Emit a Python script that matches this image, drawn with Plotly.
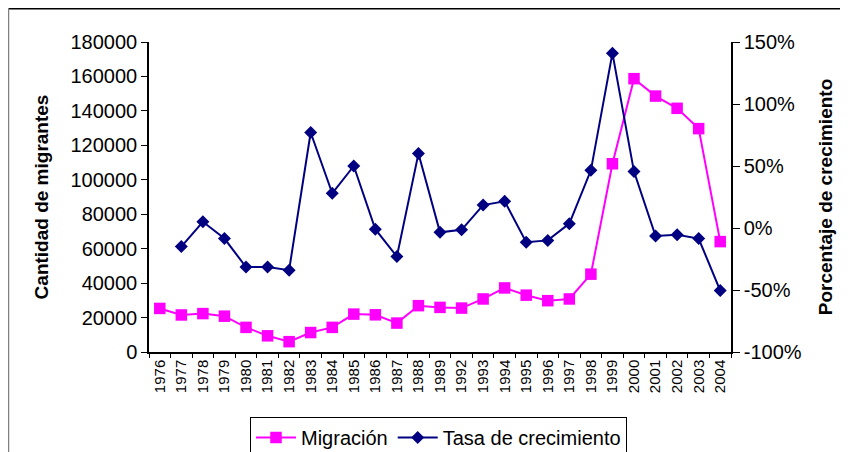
import plotly.graph_objects as go

years = ["1976", "1977", "1978", "1979", "1980", "1981", "1982", "1983", "1984",
         "1985", "1986", "1987", "1988", "1989", "1992", "1993", "1994", "1995",
         "1996", "1997", "1998", "1999", "2000", "2001", "2002", "2003", "2004"]

migracion = [25300, 21500, 22300, 20800, 14300, 9400, 6000, 11300, 14300,
             22000, 21600, 16800, 26900, 25900, 25500, 30800, 37200, 33000,
             29800, 30800, 45200, 109300, 158700, 148600, 141500, 129700, 64100]

tasa = [None, -0.15, 0.05, -0.085, -0.315, -0.315, -0.34, 0.77, 0.28,
        0.50, -0.01, -0.23, 0.60, -0.035, -0.015, 0.185, 0.215, -0.115,
        -0.10, 0.035, 0.465, 1.41, 0.455, -0.065, -0.055, -0.085, -0.505]

left_tickvals = [0, 20000, 40000, 60000, 80000, 100000, 120000, 140000, 160000, 180000]
left_ticktext = ["0", "20000", "40000", "60000", "80000", "100000", "120000",
                 "140000", "160000", "180000"]
right_tickvals = [-1.0, -0.5, 0.0, 0.5, 1.0, 1.5]
right_ticktext = ["-100%", "-50%", "0%", "50%", "100%", "150%"]

FONT = "Arial, 'Liberation Sans', sans-serif"
PINK = "#FF00FF"
NAVY = "#000080"

fig = go.Figure()
fig.add_trace(go.Scatter(
    x=years, y=migracion, name="Migración", mode="lines+markers",
    line=dict(color=PINK, width=2),
    marker=dict(symbol="square", size=11.5, color=PINK),
    xaxis="x", yaxis="y"))
fig.add_trace(go.Scatter(
    x=years, y=tasa, name="Tasa de crecimiento", mode="lines+markers",
    line=dict(color=NAVY, width=2),
    marker=dict(symbol="diamond", size=10, color=NAVY),
    xaxis="x", yaxis="y2"))

n = len(years)
axis_common = dict(showgrid=False, zeroline=False, tickcolor="black", linecolor="black",
                   automargin=False)
overlay_common = dict(showticklabels=False, showline=False, showgrid=False, zeroline=False,
                      tickcolor="black", automargin=False)

W, H = 848, 452
L, R, T, B = 141, 125, 34, 108
pw, ph = W - L - R, H - T - B

fig.update_layout(
    template="none",
    width=W, height=H,
    margin=dict(l=L, r=R, t=T, b=B, pad=0),
    paper_bgcolor="white", plot_bgcolor="white",
    font=dict(family=FONT, color="black", size=20),
    showlegend=True,
    legend=dict(orientation="h", xref="container", yref="container",
                x=430.5 / W, xanchor="center", y=(H - 409) / H, yanchor="top",
                bordercolor="black", borderwidth=1, bgcolor="white",
                font=dict(size=20, family=FONT), itemwidth=40,
                tracegroupgap=0),
    xaxis=dict(type="category", categoryorder="array", categoryarray=years,
               range=[-0.5, n - 0.5], tickson="boundaries", ticks="outside", ticklen=4,
               tickangle=-90, tickfont=dict(size=15), showline=True, linewidth=1.5,
               **axis_common),
    xaxis2=dict(overlaying="x", anchor="y", side="bottom", range=[-0.5, n - 0.5],
                tick0=-0.5, dtick=1, ticks="inside", ticklen=4, **overlay_common),
    yaxis=dict(range=[0, 180000], tickvals=left_tickvals, ticktext=left_ticktext,
               ticks="outside", ticklen=6,
               showline=True, linewidth=1.5, tickfont=dict(size=20),
               title=dict(text="<b>Cantidad de migrantes</b>", font=dict(size=19), standoff=17),
               **axis_common),
    yaxis3=dict(overlaying="y", side="left", anchor="x", range=[0, 180000],
                tickvals=left_tickvals, ticks="inside", ticklen=6, **overlay_common),
    yaxis2=dict(overlaying="y", side="right", anchor="x", range=[-1.0, 1.5],
                tickvals=right_tickvals, ticktext=right_ticktext,
                ticks="outside", ticklen=7, showline=True, linewidth=1.5,
                tickfont=dict(size=20),
                title=dict(text="<b>Porcentaje de crecimiento</b>", font=dict(size=19), standoff=18),
                **axis_common),
    yaxis4=dict(overlaying="y", side="right", anchor="x", range=[-1.0, 1.5],
                tickvals=right_tickvals, ticks="inside", ticklen=7, **overlay_common),
)

# outer chart frame (top and left edges visible in the reference)
fx0 = (0.5 - L) / pw
fy0 = (ph + T - 0.5) / ph
fig.add_shape(type="line", xref="paper", yref="paper",
              x0=fx0, x1=(W - L) / pw, y0=fy0, y1=fy0, line=dict(color="black", width=2))
fig.add_shape(type="line", xref="paper", yref="paper",
              x0=fx0, x1=fx0, y0=fy0, y1=-B / ph, line=dict(color="#808080", width=1.5))

fig.write_html("out.html")
